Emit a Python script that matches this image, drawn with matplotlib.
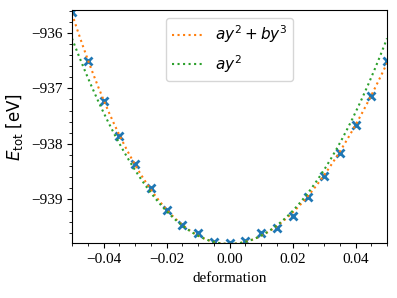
import matplotlib
matplotlib.use("Agg")
import matplotlib.pyplot as plt
import numpy as np

plt.rcParams['font.family'] = ['Liberation Serif', 'DejaVu Serif']
plt.rcParams['font.size'] = 11
plt.rcParams['mathtext.fontset'] = 'dejavusans'

# deformation and total energy
deformation = [-0.05, -0.045, -0.04, -0.035, -0.03, -0.025, -0.02, -0.015, -0.01, -0.005, 0.0,
               0.005, 0.01, 0.015, 0.02, 0.025, 0.03, 0.035, 0.04, 0.045, 0.05]
etot = [-935.62, -936.50, -937.23, -937.86, -938.37, -938.79, -939.19, -939.46, -939.60, -939.77, -939.79,
        -939.75, -939.60, -939.51, -939.30, -938.95, -938.58, -938.17, -937.66, -937.14, -936.51]

y = np.array(deformation)
E = np.array(etot)

# fits E0 + a y^2 + b y^3  and  E0 + a y^2
A3 = np.vstack([np.ones_like(y), y**2, y**3]).T
c3 = np.linalg.lstsq(A3, E, rcond=None)[0]
A2 = np.vstack([np.ones_like(y), y**2]).T
c2 = np.linalg.lstsq(A2, E, rcond=None)[0]

yy = np.linspace(-0.05, 0.05, 300)
fit3 = c3[0] + c3[1]*yy**2 + c3[2]*yy**3
fit2 = c2[0] + c2[1]*yy**2

fig = plt.figure(figsize=(3.97, 2.98), dpi=100)
ax = fig.add_axes([72/397, 1-243.3/298, (387-72)/397, (243.3-10)/298])

ax.plot(y, E, "x", color="C0", ms=6, mew=2)
ax.plot(yy, fit3, ":", color="C1", label=r"$ay^2+by^3$")
ax.plot(yy, fit2, ":", color="C2", label=r"$ay^2$")

ax.set_xlim(-0.05, 0.05)
ax.set_ylim(-939.79, -935.59)
ax.set_xticks([-0.04, -0.02, 0.0, 0.02, 0.04])
ax.set_yticks([-939, -938, -937, -936])
ax.minorticks_on()

ax.set_xlabel("deformation")
ax.set_ylabel(r"$E_\mathrm{tot}\ [\mathrm{eV}]$", fontsize=12)
ax.legend(loc="upper center", fontsize=11)

plt.savefig("out.png", dpi=100)
